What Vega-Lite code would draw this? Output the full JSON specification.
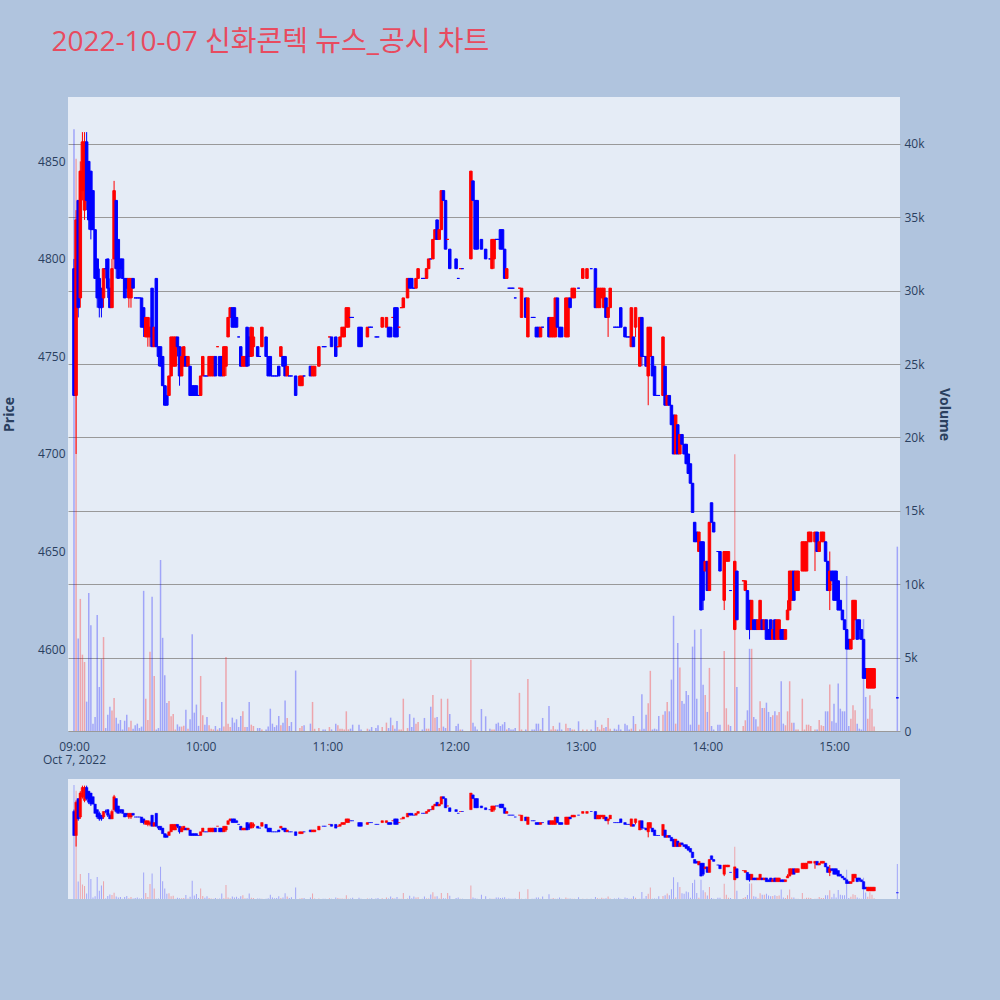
{
"$schema": "https://vega.github.io/schema/vega-lite/v6.json",
"background": "#b0c4de",
"padding": {"left": 2, "top": 29, "right": 56, "bottom": 110},
"title": {"text": "2022-10-07 신화콘텍 뉴스_공시 차트", "anchor": "start", "font": "Open Sans, Noto Sans CJK KR", "fontSize": 28, "fontWeight": "normal", "color": "#e84b5f", "dx": 49, "offset": 40},
"config": {"font": "Open Sans", "view": {"fill": "#e5ecf6", "stroke": null}, "concat": {"spacing": 14}},
"data": {"format": {"parse": {"t": "date:'%H:%M'"}}, "values": [
{"t":"09:00","o":4795,"h":4800,"l":4730,"c":4730,"v":41000},
{"t":"09:01","o":4730,"h":4825,"l":4700,"c":4820,"v":39000},
{"t":"09:02","o":4830,"h":4830,"l":4770,"c":4775,"v":6300},
{"t":"09:03","o":4780,"h":4850,"l":4775,"c":4845,"v":9000},
{"t":"09:04","o":4835,"h":4865,"l":4830,"c":4860,"v":5200},
{"t":"09:05","o":4825,"h":4865,"l":4820,"c":4860,"v":4700},
{"t":"09:06","o":4860,"h":4865,"l":4825,"c":4830,"v":2000},
{"t":"09:07","o":4850,"h":4850,"l":4815,"c":4820,"v":9400},
{"t":"09:08","o":4845,"h":4845,"l":4810,"c":4815,"v":7200},
{"t":"09:09","o":4835,"h":4835,"l":4815,"c":4815,"v":500},
{"t":"09:10","o":4815,"h":4815,"l":4790,"c":4790,"v":950},
{"t":"09:11","o":4800,"h":4800,"l":4775,"c":4780,"v":7900},
{"t":"09:12","o":4790,"h":4795,"l":4770,"c":4775,"v":3000},
{"t":"09:13","o":4785,"h":4785,"l":4770,"c":4775,"v":4900},
{"t":"09:14","o":4780,"h":4795,"l":4775,"c":4795,"v":6400},
{"t":"09:15","o":4795,"h":4800,"l":4790,"c":4795,"v":200},
{"t":"09:16","o":4800,"h":4800,"l":4780,"c":4785,"v":1100},
{"t":"09:17","o":4785,"h":4790,"l":4775,"c":4775,"v":1650},
{"t":"09:18","o":4775,"h":4800,"l":4775,"c":4795,"v":1400},
{"t":"09:19","o":4800,"h":4840,"l":4795,"c":4835,"v":2250},
{"t":"09:20","o":4830,"h":4830,"l":4790,"c":4795,"v":900},
{"t":"09:21","o":4810,"h":4810,"l":4790,"c":4790,"v":500},
{"t":"09:22","o":4800,"h":4800,"l":4790,"c":4795,"v":750},
{"t":"09:23","o":4800,"h":4800,"l":4790,"c":4790,"v":100},
{"t":"09:24","o":4790,"h":4790,"l":4780,"c":4780,"v":700},
{"t":"09:25","o":4790,"h":4790,"l":4780,"c":4785,"v":1100},
{"t":"09:26","o":4780,"h":4790,"l":4775,"c":4790,"v":250},
{"t":"09:27","o":4780,"h":4790,"l":4775,"c":4790,"v":700},
{"t":"09:28","o":4790,"h":4790,"l":4785,"c":4785,"v":150},
{"t":"09:29","o":4780,"h":4780,"l":4780,"c":4780,"v":400},
{"t":"09:30","o":4780,"h":4780,"l":4780,"c":4780,"v":500},
{"t":"09:31","o":4780,"h":4780,"l":4780,"c":4780,"v":200},
{"t":"09:32","o":4780,"h":4780,"l":4765,"c":4765,"v":300},
{"t":"09:33","o":4775,"h":4775,"l":4760,"c":4765,"v":9550},
{"t":"09:34","o":4760,"h":4770,"l":4760,"c":4770,"v":2200},
{"t":"09:35","o":4760,"h":4770,"l":4755,"c":4770,"v":750},
{"t":"09:36","o":4760,"h":4770,"l":4755,"c":4765,"v":5400},
{"t":"09:37","o":4785,"h":4785,"l":4755,"c":4755,"v":9150},
{"t":"09:38","o":4755,"h":4765,"l":4755,"c":4765,"v":3750},
{"t":"09:39","o":4790,"h":4790,"l":4755,"c":4755,"v":100},
{"t":"09:40","o":4755,"h":4755,"l":4745,"c":4750,"v":200},
{"t":"09:41","o":4755,"h":4755,"l":4745,"c":4745,"v":11650},
{"t":"09:42","o":4750,"h":4750,"l":4735,"c":4735,"v":6350},
{"t":"09:43","o":4735,"h":4735,"l":4725,"c":4725,"v":3800},
{"t":"09:44","o":4730,"h":4735,"l":4725,"c":4725,"v":1900},
{"t":"09:45","o":4730,"h":4740,"l":4730,"c":4740,"v":2050},
{"t":"09:46","o":4740,"h":4760,"l":4740,"c":4760,"v":1000},
{"t":"09:47","o":4745,"h":4760,"l":4745,"c":4760,"v":1150},
{"t":"09:48","o":4745,"h":4760,"l":4745,"c":4760,"v":100},
{"t":"09:49","o":4760,"h":4760,"l":4750,"c":4755,"v":450},
{"t":"09:50","o":4755,"h":4755,"l":4735,"c":4740,"v":300},
{"t":"09:51","o":4740,"h":4755,"l":4740,"c":4750,"v":300},
{"t":"09:52","o":4745,"h":4755,"l":4745,"c":4755,"v":350},
{"t":"09:53","o":4750,"h":4750,"l":4745,"c":4745,"v":1450},
{"t":"09:54","o":4745,"h":4750,"l":4745,"c":4750,"v":150},
{"t":"09:55","o":4745,"h":4745,"l":4730,"c":4730,"v":800},
{"t":"09:56","o":4735,"h":4735,"l":4730,"c":4730,"v":6600},
{"t":"09:57","o":4735,"h":4735,"l":4730,"c":4730,"v":1250},
{"t":"09:58","o":4735,"h":4735,"l":4730,"c":4730,"v":1800},
{"t":"09:59","o":4730,"h":4730,"l":4730,"c":4730,"v":350},
{"t":"10:00","o":4730,"h":4740,"l":4730,"c":4740,"v":3750},
{"t":"10:01","o":4740,"h":4750,"l":4740,"c":4750,"v":1070},
{"t":"10:02","o":4740,"h":4740,"l":4740,"c":4740,"v":430},
{"t":"10:03","o":4740,"h":4740,"l":4740,"c":4740,"v":950},
{"t":"10:04","o":4740,"h":4750,"l":4740,"c":4750,"v":390},
{"t":"10:05","o":4740,"h":4750,"l":4740,"c":4750,"v":160},
{"t":"10:06","o":4740,"h":4750,"l":4740,"c":4750,"v":110},
{"t":"10:07","o":4750,"h":4750,"l":4740,"c":4740,"v":340},
{"t":"10:08","o":4755,"h":4755,"l":4755,"c":4755,"v":100},
{"t":"10:09","o":4750,"h":4750,"l":4740,"c":4740,"v":200},
{"t":"10:10","o":4750,"h":4750,"l":4740,"c":4740,"v":1980},
{"t":"10:11","o":4740,"h":4755,"l":4740,"c":4755,"v":300},
{"t":"10:12","o":4745,"h":4755,"l":4740,"c":4755,"v":5050},
{"t":"10:13","o":4760,"h":4770,"l":4760,"c":4770,"v":500},
{"t":"10:14","o":4770,"h":4775,"l":4770,"c":4775,"v":270},
{"t":"10:15","o":4775,"h":4775,"l":4765,"c":4765,"v":910},
{"t":"10:16","o":4775,"h":4775,"l":4765,"c":4765,"v":570},
{"t":"10:17","o":4770,"h":4770,"l":4765,"c":4765,"v":800},
{"t":"10:18","o":4760,"h":4760,"l":4760,"c":4760,"v":270},
{"t":"10:19","o":4755,"h":4755,"l":4745,"c":4745,"v":1020},
{"t":"10:20","o":4745,"h":4750,"l":4745,"c":4750,"v":1340},
{"t":"10:21","o":4745,"h":4750,"l":4745,"c":4750,"v":270},
{"t":"10:22","o":4765,"h":4765,"l":4745,"c":4745,"v":270},
{"t":"10:23","o":4760,"h":4765,"l":4745,"c":4750,"v":1980},
{"t":"10:24","o":4750,"h":4765,"l":4750,"c":4765,"v":430},
{"t":"10:25","o":4755,"h":4765,"l":4750,"c":4760,"v":340},
{"t":"10:27","o":4755,"h":4755,"l":4750,"c":4750,"v":200},
{"t":"10:28","o":4750,"h":4750,"l":4750,"c":4750,"v":200},
{"t":"10:29","o":4755,"h":4765,"l":4755,"c":4765,"v":110},
{"t":"10:31","o":4760,"h":4760,"l":4750,"c":4750,"v":110},
{"t":"10:32","o":4750,"h":4750,"l":4740,"c":4740,"v":300},
{"t":"10:33","o":4750,"h":4750,"l":4740,"c":4740,"v":1520},
{"t":"10:34","o":4740,"h":4740,"l":4740,"c":4740,"v":500},
{"t":"10:35","o":4740,"h":4740,"l":4740,"c":4740,"v":270},
{"t":"10:36","o":4740,"h":4740,"l":4740,"c":4740,"v":390},
{"t":"10:37","o":4745,"h":4745,"l":4740,"c":4740,"v":1020},
{"t":"10:38","o":4750,"h":4755,"l":4750,"c":4755,"v":390},
{"t":"10:39","o":4750,"h":4750,"l":4745,"c":4745,"v":570},
{"t":"10:40","o":4750,"h":4750,"l":4740,"c":4740,"v":2070},
{"t":"10:41","o":4740,"h":4745,"l":4740,"c":4745,"v":890},
{"t":"10:42","o":4740,"h":4740,"l":4740,"c":4740,"v":340},
{"t":"10:43","o":4740,"h":4740,"l":4740,"c":4740,"v":610},
{"t":"10:45","o":4740,"h":4740,"l":4730,"c":4730,"v":4120},
{"t":"10:47","o":4735,"h":4740,"l":4735,"c":4740,"v":200},
{"t":"10:48","o":4735,"h":4740,"l":4735,"c":4740,"v":340},
{"t":"10:49","o":4740,"h":4740,"l":4740,"c":4740,"v":390},
{"t":"10:52","o":4745,"h":4745,"l":4740,"c":4740,"v":500},
{"t":"10:53","o":4740,"h":4745,"l":4740,"c":4745,"v":1980},
{"t":"10:54","o":4740,"h":4745,"l":4740,"c":4745,"v":150},
{"t":"10:56","o":4745,"h":4755,"l":4745,"c":4755,"v":200},
{"t":"10:58","o":4755,"h":4755,"l":4755,"c":4755,"v":100},
{"t":"10:59","o":4755,"h":4755,"l":4755,"c":4755,"v":110},
{"t":"11:01","o":4760,"h":4760,"l":4760,"c":4760,"v":270},
{"t":"11:02","o":4760,"h":4760,"l":4755,"c":4755,"v":110},
{"t":"11:04","o":4760,"h":4760,"l":4750,"c":4750,"v":500},
{"t":"11:05","o":4755,"h":4755,"l":4755,"c":4755,"v":390},
{"t":"11:06","o":4755,"h":4760,"l":4755,"c":4760,"v":150},
{"t":"11:07","o":4760,"h":4765,"l":4760,"c":4765,"v":160},
{"t":"11:08","o":4760,"h":4765,"l":4760,"c":4765,"v":100},
{"t":"11:09","o":4765,"h":4775,"l":4765,"c":4775,"v":1340},
{"t":"11:10","o":4765,"h":4775,"l":4765,"c":4775,"v":110},
{"t":"11:11","o":4770,"h":4770,"l":4770,"c":4770,"v":160},
{"t":"11:12","o":4770,"h":4770,"l":4770,"c":4770,"v":430},
{"t":"11:15","o":4765,"h":4765,"l":4755,"c":4755,"v":430},
{"t":"11:16","o":4765,"h":4765,"l":4755,"c":4755,"v":100},
{"t":"11:19","o":4760,"h":4765,"l":4760,"c":4765,"v":160},
{"t":"11:20","o":4765,"h":4765,"l":4765,"c":4765,"v":100},
{"t":"11:21","o":4765,"h":4765,"l":4765,"c":4765,"v":270},
{"t":"11:23","o":4760,"h":4760,"l":4760,"c":4760,"v":200},
{"t":"11:24","o":4760,"h":4760,"l":4760,"c":4760,"v":390},
{"t":"11:26","o":4765,"h":4770,"l":4765,"c":4770,"v":270},
{"t":"11:28","o":4765,"h":4770,"l":4765,"c":4770,"v":570},
{"t":"11:29","o":4765,"h":4765,"l":4760,"c":4760,"v":200},
{"t":"11:30","o":4765,"h":4765,"l":4760,"c":4760,"v":910},
{"t":"11:31","o":4770,"h":4770,"l":4770,"c":4770,"v":390},
{"t":"11:32","o":4775,"h":4775,"l":4760,"c":4760,"v":160},
{"t":"11:33","o":4775,"h":4775,"l":4760,"c":4760,"v":680},
{"t":"11:34","o":4765,"h":4765,"l":4765,"c":4765,"v":100},
{"t":"11:35","o":4775,"h":4775,"l":4775,"c":4775,"v":100},
{"t":"11:36","o":4775,"h":4780,"l":4775,"c":4780,"v":2200},
{"t":"11:38","o":4780,"h":4790,"l":4780,"c":4790,"v":200},
{"t":"11:39","o":4790,"h":4790,"l":4785,"c":4785,"v":1150},
{"t":"11:40","o":4790,"h":4790,"l":4785,"c":4785,"v":270},
{"t":"11:41","o":4785,"h":4785,"l":4785,"c":4785,"v":910},
{"t":"11:42","o":4785,"h":4790,"l":4785,"c":4790,"v":500},
{"t":"11:43","o":4790,"h":4795,"l":4790,"c":4795,"v":610},
{"t":"11:45","o":4790,"h":4790,"l":4790,"c":4790,"v":100},
{"t":"11:46","o":4790,"h":4790,"l":4790,"c":4790,"v":890},
{"t":"11:47","o":4790,"h":4795,"l":4790,"c":4795,"v":160},
{"t":"11:48","o":4795,"h":4800,"l":4795,"c":4800,"v":160},
{"t":"11:49","o":4800,"h":4800,"l":4800,"c":4800,"v":1650},
{"t":"11:50","o":4800,"h":4810,"l":4800,"c":4810,"v":2450},
{"t":"11:51","o":4810,"h":4815,"l":4810,"c":4815,"v":910},
{"t":"11:52","o":4820,"h":4820,"l":4810,"c":4810,"v":950},
{"t":"11:53","o":4810,"h":4815,"l":4810,"c":4815,"v":200},
{"t":"11:54","o":4815,"h":4835,"l":4815,"c":4835,"v":2200},
{"t":"11:55","o":4835,"h":4835,"l":4830,"c":4830,"v":300},
{"t":"11:56","o":4830,"h":4830,"l":4805,"c":4805,"v":200},
{"t":"11:57","o":4810,"h":4810,"l":4810,"c":4810,"v":2200},
{"t":"11:58","o":4805,"h":4805,"l":4795,"c":4795,"v":1150},
{"t":"12:01","o":4800,"h":4800,"l":4795,"c":4795,"v":340},
{"t":"12:02","o":4790,"h":4790,"l":4790,"c":4790,"v":500},
{"t":"12:03","o":4795,"h":4795,"l":4795,"c":4795,"v":100},
{"t":"12:04","o":4795,"h":4795,"l":4795,"c":4795,"v":100},
{"t":"12:08","o":4800,"h":4845,"l":4800,"c":4845,"v":4850},
{"t":"12:09","o":4840,"h":4840,"l":4830,"c":4830,"v":570},
{"t":"12:10","o":4830,"h":4830,"l":4805,"c":4805,"v":300},
{"t":"12:11","o":4830,"h":4830,"l":4805,"c":4805,"v":100},
{"t":"12:13","o":4810,"h":4810,"l":4805,"c":4805,"v":1500},
{"t":"12:15","o":4805,"h":4805,"l":4800,"c":4800,"v":1000},
{"t":"12:17","o":4800,"h":4800,"l":4800,"c":4800,"v":160},
{"t":"12:18","o":4795,"h":4810,"l":4795,"c":4810,"v":100},
{"t":"12:19","o":4800,"h":4810,"l":4795,"c":4810,"v":100},
{"t":"12:20","o":4810,"h":4810,"l":4810,"c":4810,"v":500},
{"t":"12:21","o":4810,"h":4810,"l":4810,"c":4810,"v":570},
{"t":"12:22","o":4815,"h":4815,"l":4805,"c":4805,"v":340},
{"t":"12:23","o":4815,"h":4815,"l":4805,"c":4805,"v":450},
{"t":"12:24","o":4805,"h":4805,"l":4790,"c":4790,"v":610},
{"t":"12:25","o":4790,"h":4795,"l":4790,"c":4795,"v":100},
{"t":"12:26","o":4785,"h":4785,"l":4785,"c":4785,"v":200},
{"t":"12:27","o":4785,"h":4785,"l":4785,"c":4785,"v":100},
{"t":"12:28","o":4785,"h":4785,"l":4785,"c":4785,"v":100},
{"t":"12:29","o":4780,"h":4780,"l":4780,"c":4780,"v":200},
{"t":"12:31","o":4785,"h":4785,"l":4785,"c":4785,"v":2600},
{"t":"12:32","o":4770,"h":4785,"l":4770,"c":4785,"v":100},
{"t":"12:34","o":4780,"h":4780,"l":4770,"c":4770,"v":100},
{"t":"12:35","o":4760,"h":4780,"l":4760,"c":4780,"v":3550},
{"t":"12:37","o":4770,"h":4770,"l":4770,"c":4770,"v":110},
{"t":"12:38","o":4770,"h":4770,"l":4770,"c":4770,"v":100},
{"t":"12:39","o":4765,"h":4765,"l":4760,"c":4760,"v":500},
{"t":"12:40","o":4765,"h":4765,"l":4760,"c":4760,"v":500},
{"t":"12:41","o":4760,"h":4765,"l":4760,"c":4765,"v":110},
{"t":"12:42","o":4765,"h":4765,"l":4765,"c":4765,"v":890},
{"t":"12:45","o":4770,"h":4770,"l":4760,"c":4760,"v":1700},
{"t":"12:46","o":4760,"h":4770,"l":4760,"c":4770,"v":100},
{"t":"12:47","o":4760,"h":4770,"l":4760,"c":4770,"v":340},
{"t":"12:48","o":4760,"h":4780,"l":4760,"c":4780,"v":110},
{"t":"12:49","o":4780,"h":4780,"l":4765,"c":4765,"v":100},
{"t":"12:50","o":4765,"h":4765,"l":4760,"c":4760,"v":570},
{"t":"12:51","o":4765,"h":4765,"l":4760,"c":4760,"v":100},
{"t":"12:53","o":4760,"h":4780,"l":4760,"c":4780,"v":500},
{"t":"12:54","o":4760,"h":4780,"l":4760,"c":4780,"v":200},
{"t":"12:55","o":4780,"h":4780,"l":4775,"c":4775,"v":200},
{"t":"12:56","o":4780,"h":4785,"l":4780,"c":4785,"v":110},
{"t":"12:57","o":4780,"h":4785,"l":4780,"c":4785,"v":100},
{"t":"12:59","o":4785,"h":4785,"l":4785,"c":4785,"v":660},
{"t":"13:01","o":4790,"h":4795,"l":4790,"c":4795,"v":110},
{"t":"13:03","o":4790,"h":4795,"l":4790,"c":4795,"v":100},
{"t":"13:05","o":4795,"h":4795,"l":4795,"c":4795,"v":100},
{"t":"13:07","o":4795,"h":4795,"l":4775,"c":4775,"v":730},
{"t":"13:08","o":4775,"h":4785,"l":4775,"c":4785,"v":270},
{"t":"13:09","o":4775,"h":4785,"l":4775,"c":4785,"v":100},
{"t":"13:10","o":4780,"h":4785,"l":4780,"c":4785,"v":430},
{"t":"13:11","o":4775,"h":4785,"l":4775,"c":4785,"v":200},
{"t":"13:12","o":4780,"h":4780,"l":4770,"c":4770,"v":270},
{"t":"13:13","o":4770,"h":4775,"l":4760,"c":4775,"v":890},
{"t":"13:14","o":4775,"h":4785,"l":4775,"c":4785,"v":160},
{"t":"13:16","o":4765,"h":4765,"l":4765,"c":4765,"v":160},
{"t":"13:17","o":4765,"h":4765,"l":4765,"c":4765,"v":100},
{"t":"13:18","o":4765,"h":4765,"l":4765,"c":4765,"v":430},
{"t":"13:19","o":4775,"h":4775,"l":4765,"c":4765,"v":100},
{"t":"13:21","o":4765,"h":4765,"l":4760,"c":4760,"v":500},
{"t":"13:22","o":4760,"h":4760,"l":4760,"c":4760,"v":390},
{"t":"13:23","o":4760,"h":4760,"l":4760,"c":4760,"v":100},
{"t":"13:24","o":4755,"h":4775,"l":4755,"c":4775,"v":160},
{"t":"13:25","o":4760,"h":4760,"l":4755,"c":4755,"v":1020},
{"t":"13:26","o":4765,"h":4775,"l":4760,"c":4775,"v":480},
{"t":"13:28","o":4745,"h":4770,"l":4745,"c":4770,"v":100},
{"t":"13:29","o":4770,"h":4770,"l":4745,"c":4750,"v":2500},
{"t":"13:30","o":4750,"h":4750,"l":4750,"c":4750,"v":160},
{"t":"13:31","o":4750,"h":4750,"l":4745,"c":4745,"v":1110},
{"t":"13:32","o":4740,"h":4765,"l":4725,"c":4765,"v":1890},
{"t":"13:33","o":4750,"h":4765,"l":4750,"c":4765,"v":4100},
{"t":"13:34","o":4750,"h":4750,"l":4740,"c":4740,"v":100},
{"t":"13:35","o":4745,"h":4745,"l":4730,"c":4730,"v":160},
{"t":"13:36","o":4730,"h":4730,"l":4730,"c":4730,"v":110},
{"t":"13:37","o":4730,"h":4730,"l":4730,"c":4730,"v":1020},
{"t":"13:39","o":4730,"h":4760,"l":4730,"c":4760,"v":1110},
{"t":"13:40","o":4745,"h":4745,"l":4725,"c":4725,"v":1340},
{"t":"13:41","o":4725,"h":4730,"l":4725,"c":4730,"v":1980},
{"t":"13:42","o":4730,"h":4730,"l":4725,"c":4725,"v":1340},
{"t":"13:43","o":4725,"h":4725,"l":4715,"c":4715,"v":3500},
{"t":"13:44","o":4720,"h":4720,"l":4700,"c":4700,"v":7850},
{"t":"13:45","o":4700,"h":4720,"l":4700,"c":4720,"v":500},
{"t":"13:46","o":4715,"h":4715,"l":4700,"c":4700,"v":6000},
{"t":"13:47","o":4700,"h":4710,"l":4700,"c":4710,"v":4320},
{"t":"13:48","o":4710,"h":4710,"l":4705,"c":4705,"v":2050},
{"t":"13:49","o":4705,"h":4705,"l":4700,"c":4700,"v":1860},
{"t":"13:50","o":4705,"h":4705,"l":4695,"c":4695,"v":2730},
{"t":"13:51","o":4700,"h":4700,"l":4690,"c":4690,"v":2450},
{"t":"13:52","o":4695,"h":4695,"l":4685,"c":4685,"v":430},
{"t":"13:53","o":4685,"h":4685,"l":4670,"c":4670,"v":5750},
{"t":"13:54","o":4665,"h":4665,"l":4655,"c":4655,"v":6900},
{"t":"13:55","o":4660,"h":4660,"l":4655,"c":4655,"v":2200},
{"t":"13:56","o":4650,"h":4660,"l":4650,"c":4660,"v":430},
{"t":"13:57","o":4655,"h":4655,"l":4620,"c":4620,"v":6950},
{"t":"13:58","o":4655,"h":4655,"l":4620,"c":4625,"v":3150},
{"t":"13:59","o":4640,"h":4645,"l":4640,"c":4645,"v":2450},
{"t":"14:00","o":4645,"h":4645,"l":4630,"c":4630,"v":1300},
{"t":"14:01","o":4630,"h":4665,"l":4630,"c":4665,"v":4300},
{"t":"14:02","o":4675,"h":4675,"l":4665,"c":4665,"v":340},
{"t":"14:03","o":4665,"h":4665,"l":4660,"c":4660,"v":100},
{"t":"14:05","o":4650,"h":4650,"l":4650,"c":4650,"v":430},
{"t":"14:06","o":4650,"h":4650,"l":4640,"c":4640,"v":430},
{"t":"14:08","o":4625,"h":4650,"l":4620,"c":4650,"v":5450},
{"t":"14:09","o":4645,"h":4650,"l":4645,"c":4650,"v":1550},
{"t":"14:10","o":4645,"h":4650,"l":4645,"c":4650,"v":430},
{"t":"14:11","o":4630,"h":4630,"l":4630,"c":4630,"v":340},
{"t":"14:13","o":4610,"h":4645,"l":4610,"c":4645,"v":18850},
{"t":"14:14","o":4640,"h":4640,"l":4615,"c":4615,"v":3000},
{"t":"14:17","o":4635,"h":4635,"l":4635,"c":4635,"v":340},
{"t":"14:18","o":4630,"h":4635,"l":4630,"c":4635,"v":730},
{"t":"14:19","o":4630,"h":4630,"l":4610,"c":4610,"v":1410},
{"t":"14:20","o":4625,"h":4625,"l":4605,"c":4610,"v":5600},
{"t":"14:21","o":4610,"h":4625,"l":4610,"c":4625,"v":5600},
{"t":"14:22","o":4615,"h":4615,"l":4610,"c":4610,"v":950},
{"t":"14:23","o":4615,"h":4615,"l":4610,"c":4610,"v":800},
{"t":"14:24","o":4610,"h":4615,"l":4610,"c":4615,"v":300},
{"t":"14:25","o":4610,"h":4625,"l":4610,"c":4625,"v":2030},
{"t":"14:26","o":4615,"h":4615,"l":4610,"c":4610,"v":1570},
{"t":"14:27","o":4610,"h":4615,"l":4610,"c":4615,"v":1570},
{"t":"14:28","o":4615,"h":4615,"l":4605,"c":4605,"v":1930},
{"t":"14:29","o":4610,"h":4610,"l":4605,"c":4605,"v":1300},
{"t":"14:30","o":4615,"h":4615,"l":4605,"c":4605,"v":955},
{"t":"14:31","o":4605,"h":4615,"l":4605,"c":4610,"v":1070},
{"t":"14:32","o":4615,"h":4615,"l":4605,"c":4605,"v":1340},
{"t":"14:33","o":4605,"h":4615,"l":4605,"c":4615,"v":1070},
{"t":"14:34","o":4605,"h":4615,"l":4605,"c":4615,"v":1300},
{"t":"14:35","o":4610,"h":4610,"l":4605,"c":4605,"v":3390},
{"t":"14:36","o":4610,"h":4610,"l":4605,"c":4605,"v":500},
{"t":"14:37","o":4605,"h":4610,"l":4605,"c":4610,"v":390},
{"t":"14:38","o":4615,"h":4625,"l":4615,"c":4620,"v":1340},
{"t":"14:39","o":4620,"h":4640,"l":4620,"c":4640,"v":3390},
{"t":"14:40","o":4625,"h":4640,"l":4625,"c":4640,"v":570},
{"t":"14:41","o":4640,"h":4640,"l":4625,"c":4625,"v":570},
{"t":"14:42","o":4630,"h":4640,"l":4630,"c":4640,"v":100},
{"t":"14:43","o":4630,"h":4640,"l":4630,"c":4640,"v":100},
{"t":"14:45","o":4640,"h":4655,"l":4640,"c":4655,"v":2200},
{"t":"14:46","o":4640,"h":4655,"l":4640,"c":4655,"v":100},
{"t":"14:47","o":4640,"h":4655,"l":4640,"c":4655,"v":430},
{"t":"14:48","o":4655,"h":4660,"l":4655,"c":4660,"v":430},
{"t":"14:49","o":4655,"h":4660,"l":4655,"c":4660,"v":340},
{"t":"14:51","o":4655,"h":4660,"l":4640,"c":4660,"v":100},
{"t":"14:52","o":4660,"h":4660,"l":4650,"c":4650,"v":100},
{"t":"14:53","o":4650,"h":4655,"l":4650,"c":4655,"v":750},
{"t":"14:54","o":4655,"h":4660,"l":4655,"c":4660,"v":390},
{"t":"14:55","o":4655,"h":4660,"l":4655,"c":4660,"v":340},
{"t":"14:56","o":4655,"h":4655,"l":4645,"c":4645,"v":1340},
{"t":"14:57","o":4645,"h":4645,"l":4630,"c":4630,"v":1340},
{"t":"14:58","o":4630,"h":4650,"l":4620,"c":4640,"v":3160},
{"t":"14:59","o":4640,"h":4640,"l":4635,"c":4635,"v":660},
{"t":"15:00","o":4640,"h":4640,"l":4625,"c":4625,"v":1860},
{"t":"15:01","o":4640,"h":4640,"l":4625,"c":4625,"v":570},
{"t":"15:02","o":4635,"h":4635,"l":4620,"c":4620,"v":3230},
{"t":"15:03","o":4625,"h":4625,"l":4620,"c":4620,"v":1520},
{"t":"15:04","o":4620,"h":4620,"l":4615,"c":4615,"v":1340},
{"t":"15:05","o":4615,"h":4615,"l":4610,"c":4610,"v":1340},
{"t":"15:06","o":4610,"h":4610,"l":4600,"c":4600,"v":10560},
{"t":"15:07","o":4605,"h":4605,"l":4600,"c":4600,"v":340},
{"t":"15:08","o":4600,"h":4605,"l":4600,"c":4605,"v":840},
{"t":"15:09","o":4605,"h":4625,"l":4605,"c":4625,"v":1750},
{"t":"15:10","o":4615,"h":4625,"l":4615,"c":4625,"v":1410},
{"t":"15:11","o":4615,"h":4615,"l":4605,"c":4605,"v":500},
{"t":"15:12","o":4615,"h":4615,"l":4605,"c":4610,"v":160},
{"t":"15:13","o":4610,"h":4610,"l":4605,"c":4605,"v":100},
{"t":"15:14","o":4605,"h":4605,"l":4585,"c":4585,"v":7620},
{"t":"15:15","o":4590,"h":4590,"l":4585,"c":4585,"v":2320},
{"t":"15:16","o":4580,"h":4590,"l":4580,"c":4590,"v":840},
{"t":"15:17","o":4580,"h":4590,"l":4580,"c":4590,"v":2430},
{"t":"15:18","o":4580,"h":4590,"l":4580,"c":4590,"v":1520},
{"t":"15:19","o":4580,"h":4590,"l":4580,"c":4590,"v":300},
{"t":"15:30","o":4575,"h":4575,"l":4575,"c":4575,"v":12560}
]},
"resolve": {"scale": {"x": "independent", "y": "independent"}},
"vconcat": [
{
"width": 832, "height": 634,
"transform": [{"window": [{"op": "lag", "field": "c", "as": "pc"}], "sort": [{"field": "t", "order": "ascending"}]}],
"encoding": {"x": {"field": "t", "type": "temporal",
  "scale": {"padding": 0, "domain": [{"year": 1900, "month": 1, "date": 1, "hours": 8, "minutes": 57, "seconds": 10}, {"year": 1900, "month": 1, "date": 1, "hours": 15, "minutes": 31, "seconds": 16}]},
  "axis": {"title": null, "grid": false, "ticks": false, "domain": false, "labelFlush": false,
    "values": [{"year": 1900, "month": 1, "date": 1, "hours": 9}, {"year": 1900, "month": 1, "date": 1, "hours": 10}, {"year": 1900, "month": 1, "date": 1, "hours": 11}, {"year": 1900, "month": 1, "date": 1, "hours": 12}, {"year": 1900, "month": 1, "date": 1, "hours": 13}, {"year": 1900, "month": 1, "date": 1, "hours": 14}, {"year": 1900, "month": 1, "date": 1, "hours": 15}],
    "labelExpr": "hours(datum.value) == 9 ? ['09:00', 'Oct 7, 2022'] : timeFormat(datum.value, '%H:%M')", "labelFontSize": 12, "labelColor": "#2a3f5f", "labelPadding": 10, "labelLineHeight": 13}}},
"layer": [
 {"mark": {"type": "bar", "size": 1.5, "opacity": 0.3},
  "encoding": {
   "y": {"field": "v", "type": "quantitative", "scale": {"domain": [0, 43200], "nice": false, "zero": false},
     "axis": {"orient": "right", "title": "Volume", "values": [0, 5000, 10000, 15000, 20000, 25000, 30000, 35000, 40000], "labelExpr": "datum.value == 0 ? '0' : (datum.value / 1000) + 'k'", "ticks": false, "domain": false, "gridColor": "#999999", "gridWidth": 1, "labelFontSize": 12, "labelColor": "#2a3f5f", "labelPadding": 4, "titleFontSize": 14, "titleFontWeight": "bold", "titleColor": "#2a3f5f", "titlePadding": 12}},
   "color": {"condition": {"test": "datum.c > datum.o || (datum.c == datum.o && datum.c > datum.pc)", "value": "#ff0000"}, "value": "#0000ff"}
  }},
 {"layer": [
  {"mark": {"type": "rule", "strokeWidth": 1},
   "encoding": {
    "y": {"field": "l", "type": "quantitative", "scale": {"domain": [4558, 4883], "nice": false, "zero": false},
      "axis": {"orient": "left", "title": "Price", "format": "d", "values": [4600, 4650, 4700, 4750, 4800, 4850], "ticks": false, "domain": false, "gridColor": "#ffffff", "gridWidth": 1, "labelFontSize": 12, "labelColor": "#2a3f5f", "labelPadding": 3, "titleFontSize": 14, "titleFontWeight": "bold", "titleColor": "#2a3f5f", "titlePadding": 21}},
    "y2": {"field": "h"},
    "color": {"condition": {"test": "datum.c > datum.o || (datum.c == datum.o && datum.c > datum.pc)", "value": "#ff0000"}, "value": "#0000ff"}
   }},
  {"mark": {"type": "bar", "size": 2.5, "strokeWidth": 1},
   "encoding": {
    "y": {"field": "o", "type": "quantitative"},
    "y2": {"field": "c"},
    "color": {"condition": {"test": "datum.c > datum.o || (datum.c == datum.o && datum.c > datum.pc)", "value": "#ff0000"}, "value": "#0000ff"},
    "stroke": {"condition": {"test": "datum.c > datum.o || (datum.c == datum.o && datum.c > datum.pc)", "value": "#ff0000"}, "value": "#0000ff"}
   }}
 ]}
],
"resolve": {"scale": {"y": "independent"}}
},
{
"width": 832, "height": 120,
"transform": [{"window": [{"op": "lag", "field": "c", "as": "pc"}], "sort": [{"field": "t", "order": "ascending"}]}],
"encoding": {"x": {"field": "t", "type": "temporal",
  "scale": {"padding": 0, "domain": [{"year": 1900, "month": 1, "date": 1, "hours": 8, "minutes": 57, "seconds": 10}, {"year": 1900, "month": 1, "date": 1, "hours": 15, "minutes": 31, "seconds": 16}]},
  "axis": null}},
"layer": [
 {"mark": {"type": "bar", "size": 1, "opacity": 0.3},
  "encoding": {
   "y": {"field": "v", "type": "quantitative", "scale": {"domain": [0, 43200], "nice": false, "zero": false}, "axis": null},
   "color": {"condition": {"test": "datum.c > datum.o || (datum.c == datum.o && datum.c > datum.pc)", "value": "#ff0000"}, "value": "#0000ff"}
  }},
 {"layer": [
  {"mark": {"type": "rule", "strokeWidth": 1},
   "encoding": {
    "y": {"field": "l", "type": "quantitative", "scale": {"domain": [4558, 4883], "nice": false, "zero": false}, "axis": null},
    "y2": {"field": "h"},
    "color": {"condition": {"test": "datum.c > datum.o || (datum.c == datum.o && datum.c > datum.pc)", "value": "#ff0000"}, "value": "#0000ff"}
   }},
  {"mark": {"type": "bar", "size": 2.5, "strokeWidth": 0.5},
   "encoding": {
    "y": {"field": "o", "type": "quantitative"},
    "y2": {"field": "c"},
    "color": {"condition": {"test": "datum.c > datum.o || (datum.c == datum.o && datum.c > datum.pc)", "value": "#ff0000"}, "value": "#0000ff"},
    "stroke": {"condition": {"test": "datum.c > datum.o || (datum.c == datum.o && datum.c > datum.pc)", "value": "#ff0000"}, "value": "#0000ff"}
   }}
 ]}
],
"resolve": {"scale": {"y": "independent"}}
}
]
}
